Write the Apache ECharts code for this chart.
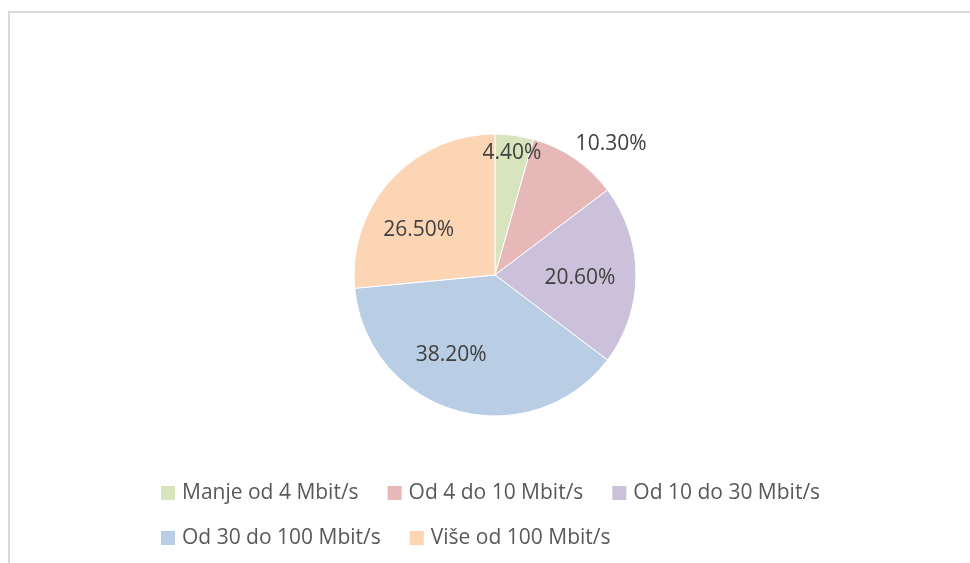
<!DOCTYPE html>
<html>
<head>
<meta charset="utf-8">
<script src="https://cdn.jsdelivr.net/npm/echarts@6/dist/echarts.min.js"></script>
<style>
    body {
        margin: 0;
        background: #fff;
    }
    .wrap {
        position: relative;
        width: 970px;
        height: 563px;
        overflow: hidden;
    }
    .frame {
        position: absolute;
        left: 8px;
        top: 11px;
        width: 1000px;
        height: 600px;
        border-left: 2px solid #d9d9d9;
        border-top: 2px solid #d9d9d9;
    }
    #chart {
        position: absolute;
        left: 0;
        top: 0;
        width: 970px;
        height: 563px;
    }
</style>
</head>
<body>
<div class="wrap">
    <div class="frame"></div>
    <div id="chart"></div>
</div>
<script>
// 数据
const categories = [
    "Manje od 4 Mbit/s",
    "Od 4 do 10 Mbit/s",
    "Od 10 do 30 Mbit/s",
    "Od 30 do 100 Mbit/s",
    "Više od 100 Mbit/s",
];
const values = [4.4, 10.3, 20.6, 38.2, 26.5];
const colors = ["#d7e4bd", "#e6b9b8", "#ccc1da", "#b9cde5", "#fcd5b5"];

const fontFamily = "'Open Sans', sans-serif";
const center = [495, 275];

const pieData = categories.map((name, i) => ({
    name: name,
    value: values[i],
    itemStyle: { color: colors[i] },
}));

// 标签文字，dy 为垂直微调（用空行撑开）
function labelText(value, dy) {
    const txt = "{v|" + value.toFixed(2) + "%}";
    if (!dy) return txt;
    if (dy > 0) return "{s| }\n" + txt;
    return txt + "\n{s| }";
}

// 透明的标签系列，只显示指定的标签
function labelSeries(radius, showIdx, tweak) {
    tweak = tweak || {};
    return {
        type: "pie",
        radius: radius,
        center: center,
        startAngle: 90,
        silent: true,
        animation: false,
        labelLine: { show: false },
        itemStyle: { color: "transparent", borderWidth: 0 },
        emphasis: { disabled: true },
        data: categories.map((name, i) => {
            const t = tweak[i] || { dx: 0, dy: 0 };
            return {
                name: name,
                value: values[i],
                itemStyle: { color: "transparent" },
                label: {
                    show: showIdx.indexOf(i) >= 0,
                    position: "inside",
                    formatter: (p) => labelText(p.value, t.dy),
                    padding: t.dx > 0 ? [0, 0, 0, 2 * t.dx] : [0, -2 * t.dx, 0, 0],
                    rich: {
                        v: {
                            color: "#404040",
                            fontFamily: fontFamily,
                            fontSize: 21,
                            lineHeight: 24,
                        },
                        s: {
                            fontSize: 2,
                            lineHeight: Math.abs(2 * t.dy),
                        },
                    },
                },
            };
        }),
    };
}

const chart = echarts.init(document.getElementById("chart"));
chart.setOption({
    animation: false,
    legend: {
        data: categories,
        left: 159,
        top: 481,
        padding: 0,
        width: 720,
        icon: "rect",
        itemWidth: 16,
        itemHeight: 16,
        itemGap: 21,
        selectedMode: false,
        textStyle: {
            color: "#595959",
            fontFamily: fontFamily,
            fontSize: 21,
            lineHeight: 24,
            padding: [0, 6, 0, 1],
        },
    },
    series: [
        {
            type: "pie",
            radius: [0, 141],
            center: center,
            startAngle: 90,
            silent: true,
            label: { show: false },
            labelLine: { show: false },
            itemStyle: { borderColor: "#fff", borderWidth: 1 },
            data: pieData,
        },
        labelSeries([0, 176], [2, 3, 4], {
            2: { dx: -6, dy: 3 },
            3: { dx: -19, dy: -8 },
            4: { dx: -9, dy: 16 },
        }),
        labelSeries([0, 240], [0]),
        labelSeries([0, 352], [1], { 1: { dx: 15, dy: 17 } }),
    ],
});
</script>
</body>
</html>
